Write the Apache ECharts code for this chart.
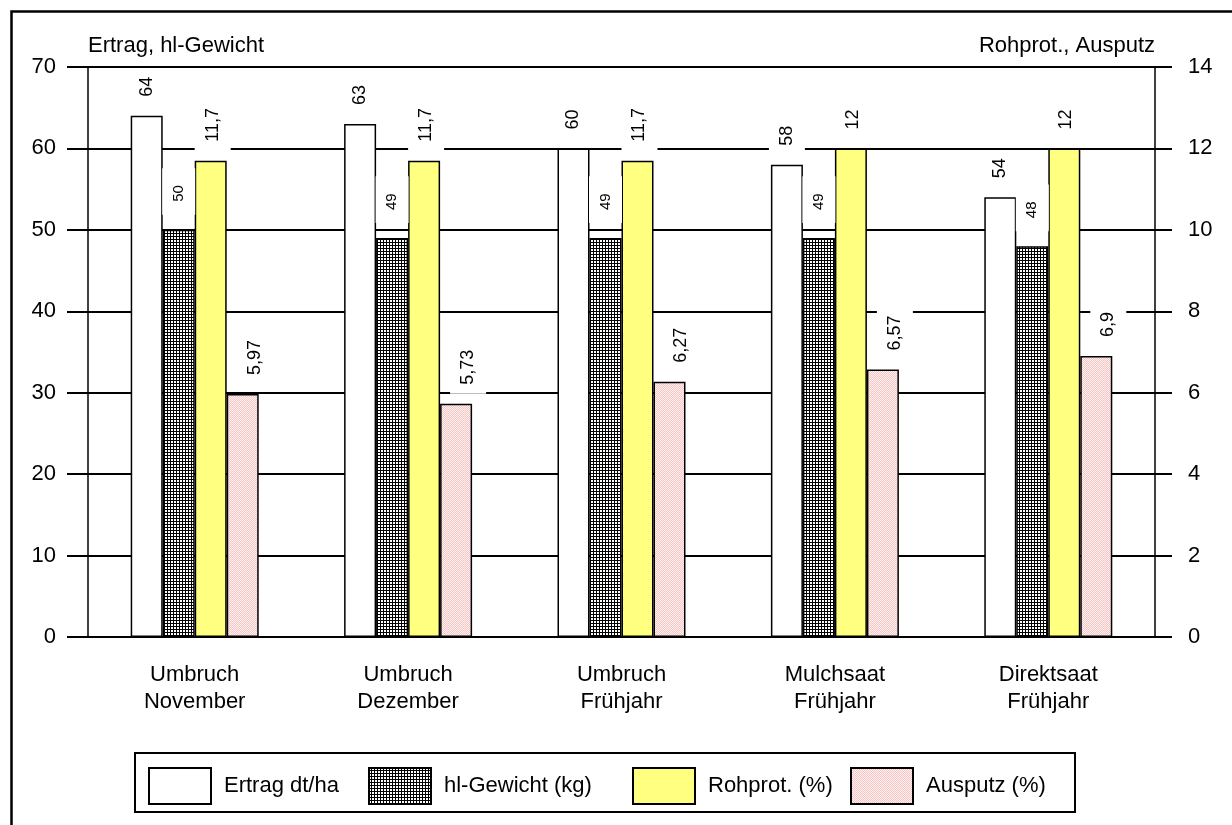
<!DOCTYPE html>
<html>
<head>
<meta charset="utf-8">
<script src="https://cdn.jsdelivr.net/npm/echarts@6/dist/echarts.min.js"></script>
<style>
  html, body { margin: 0; padding: 0; background: #fff; }
  #chart { width: 1232px; height: 825px; }
</style>
</head>
<body>
<div id="chart"></div>
<script>
// Treatments (x categories)
const categories = ['Umbruch\nNovember', 'Umbruch\nDezember', 'Umbruch\nFrühjahr', 'Mulchsaat\nFrühjahr', 'Direktsaat\nFrühjahr'];
// Left axis series
const ertrag = [64, 63, 60, 58, 54];
const hlGewicht = [50, 49, 49, 49, 48];
// Right axis series
const rohprot = [11.7, 11.7, 11.7, 12, 12];
const ausputz = [5.97, 5.73, 6.27, 6.57, 6.9];
// Series names
const seriesNames = ['Ertrag dt/ha', 'hl-Gewicht (kg)', 'Rohprot. (%)', 'Ausputz (%)'];
// Axis ranges
const leftAxis = { min: 0, max: 70, interval: 10, name: 'Ertrag, hl-Gewicht' };
const rightAxis = { min: 0, max: 14, interval: 2, name: 'Rohprot., Ausputz' };

const FONT = 'Arial, "Liberation Sans", sans-serif';
const TEXT_SIZE = 22;

// Fine black/white grid fill
function gridPattern() {
  const c = document.createElement('canvas');
  c.width = 3; c.height = 3;
  const g = c.getContext('2d');
  g.fillStyle = '#000'; g.fillRect(0, 0, 3, 3);
  g.fillStyle = '#fff'; g.fillRect(0, 0, 2, 2);
  return c;
}
// Light pink stipple fill
function pinkPattern() {
  const c = document.createElement('canvas');
  c.width = 2; c.height = 2;
  const g = c.getContext('2d');
  g.fillStyle = '#f7c4c4'; g.fillRect(0, 0, 2, 2);
  g.fillStyle = '#fff2f2'; g.fillRect(0, 0, 1, 1); g.fillRect(1, 1, 1, 1);
  return c;
}

const fmt = p => String(p.value).replace('.', ',');

function label(opts) {
  return Object.assign({
    show: true, position: 'top', rotate: 90, align: 'left', verticalAlign: 'middle',
    distance: 10, fontSize: 18, fontFamily: FONT, color: '#000',
    backgroundColor: '#fff', padding: [9, 6, 9, 9], formatter: fmt
  }, opts || {});
}

const border = { borderColor: '#000', borderWidth: 1.5 };

const chart = echarts.init(document.getElementById('chart'), null, { renderer: 'canvas' });

const option = {
  animation: false,
  backgroundColor: '#fff',
  textStyle: { fontFamily: FONT, color: '#000' },
  grid: { left: 88, right: 77, top: 67, bottom: 188 },
  xAxis: {
    type: 'category',
    data: categories,
    axisLine: { lineStyle: { color: '#000', width: 1.5 } },
    axisTick: { show: false },
    axisLabel: { fontSize: TEXT_SIZE, lineHeight: 26.5, margin: 25, color: '#000', fontFamily: FONT }
  },
  yAxis: [
    {
      type: 'value', position: 'left', min: leftAxis.min, max: leftAxis.max, interval: leftAxis.interval,
      name: leftAxis.name, nameLocation: 'end', nameGap: 21,
      nameTextStyle: { fontSize: TEXT_SIZE, align: 'left', verticalAlign: 'middle', color: '#000', fontFamily: FONT },
      axisLine: { show: true, lineStyle: { color: '#000', width: 1.5 } },
      axisTick: { show: true, inside: false, length: 21, lineStyle: { color: '#000', width: 2 } },
      axisLabel: { fontSize: TEXT_SIZE, margin: 32, color: '#000', fontFamily: FONT },
      splitLine: { show: true, lineStyle: { color: '#000', width: 2 } }
    },
    {
      type: 'value', position: 'right', min: rightAxis.min, max: rightAxis.max, interval: rightAxis.interval,
      name: rightAxis.name, nameLocation: 'end', nameGap: 21,
      nameTextStyle: { fontSize: TEXT_SIZE, align: 'right', verticalAlign: 'middle', color: '#000', fontFamily: FONT },
      axisLine: { show: true, lineStyle: { color: '#000', width: 1.5 } },
      axisTick: { show: true, inside: false, length: 17, lineStyle: { color: '#000', width: 2 } },
      axisLabel: { fontSize: TEXT_SIZE, margin: 33, color: '#000', fontFamily: FONT },
      splitLine: { show: false }
    }
  ],
  legend: seriesNames.map((n, i) => ({
    data: [n],
    left: [148, 368, 632, 850][i],
    top: 767,
    padding: 0,
    itemWidth: 62,
    itemHeight: 36,
    icon: 'rect',
    selectedMode: false,
    textStyle: { fontSize: TEXT_SIZE, color: '#000', fontFamily: FONT, padding: [6, 0, 0, 8] }
  })),
  series: [
    {
      name: seriesNames[0], type: 'bar', yAxisIndex: 0, data: ertrag,
      barWidth: 32, barGap: '0%',
      itemStyle: Object.assign({ color: '#fff' }, border),
      label: label()
    },
    {
      name: seriesNames[1], type: 'bar', yAxisIndex: 0, data: hlGewicht,
      barWidth: 32, barGap: '0%',
      itemStyle: Object.assign({ color: { image: gridPattern(), repeat: 'repeat' } }, border),
      label: label({ fontSize: 15, distance: 15, padding: [9, 17, 9, 13] })
    },
    {
      name: seriesNames[2], type: 'bar', yAxisIndex: 1, data: rohprot,
      barWidth: 32, barGap: '0%',
      itemStyle: Object.assign({ color: '#ffff80' }, border),
      label: label({ offset: [0, 2] })
    },
    {
      name: seriesNames[3], type: 'bar', yAxisIndex: 1, data: ausputz,
      barWidth: 32, barGap: '0%',
      itemStyle: Object.assign({ color: { image: pinkPattern(), repeat: 'repeat' } }, border),
      label: label({ offset: [0, 12] })
    }
  ],
  graphic: [
    // outer frame
    { type: 'rect', left: 9, top: 9, shape: { x: 0, y: 0, width: 1300, height: 900 },
      style: { fill: 'none', stroke: '#000', lineWidth: 2.5 }, silent: true, z: -1 },
    // legend frame
    { type: 'rect', shape: { x: 135, y: 753, width: 940, height: 59 },
      style: { fill: 'none', stroke: '#000', lineWidth: 2 }, silent: true }
  ]
};

chart.setOption(option);
</script>
</body>
</html>
